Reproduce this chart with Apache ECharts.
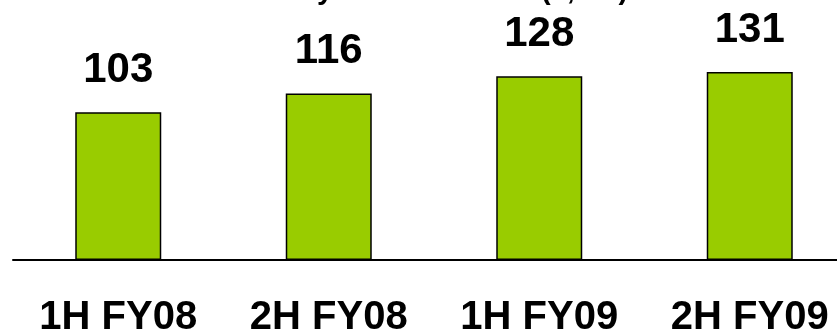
<!DOCTYPE html>
<html>
<head>
<meta charset="utf-8">
<style>
  html, body { margin: 0; padding: 0; background: #ffffff; }
  #chart { width: 837px; height: 335px; }
</style>
<script src="https://cdn.jsdelivr.net/npm/echarts@6/dist/echarts.min.js"></script>
</head>
<body>
<div id="chart"></div>
<script>
// Half-year periods and handset sales values
const periods = ['1H FY08', '2H FY08', '1H FY09', '2H FY09'];
const sales = [103, 116, 128, 131];
const chartTitle = 'Handset unit sales by sales location (¥, bn)';

const chart = echarts.init(document.getElementById('chart'), null, { renderer: 'canvas' });

chart.setOption({
  animation: false,
  backgroundColor: '#ffffff',
  title: {
    text: chartTitle,
    left: 30,
    top: -29,
    textStyle: {
      fontFamily: 'Liberation Sans, Arial, sans-serif',
      fontWeight: 'bold',
      fontSize: 29,
      color: '#000000'
    }
  },
  grid: {
    left: 13,
    top: 72,
    width: 842,
    height: 188,
    outerBoundsMode: 'none',
    containLabel: false
  },
  xAxis: {
    type: 'category',
    data: periods,
    axisLine: { show: true, lineStyle: { color: '#000000', width: 2 } },
    axisTick: { show: false },
    axisLabel: {
      interval: 0,
      margin: 38,
      color: '#000000',
      fontFamily: 'Liberation Sans, Arial, sans-serif',
      fontWeight: 'bold',
      fontSize: 40
    }
  },
  yAxis: {
    type: 'value',
    min: 0,
    max: 131,
    show: false,
    splitLine: { show: false }
  },
  series: [{
    type: 'bar',
    data: sales,
    barWidth: 86,
    itemStyle: {
      color: '#99CC00',
      borderColor: '#000000',
      borderWidth: 1.5
    },
    label: {
      show: true,
      position: 'top',
      distance: 21,
      color: '#000000',
      fontFamily: 'Liberation Sans, Arial, sans-serif',
      fontWeight: 'bold',
      fontSize: 42
    }
  }]
});
</script>
</body>
</html>
